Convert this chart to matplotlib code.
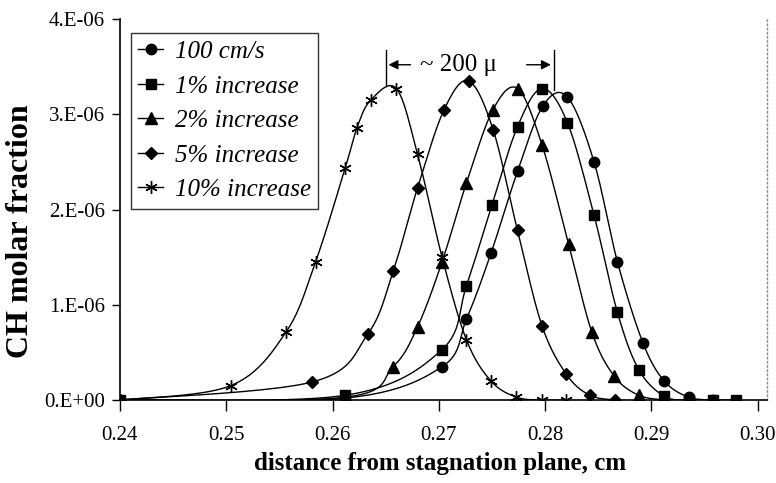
import numpy as np
import matplotlib
matplotlib.use("Agg")
import matplotlib.pyplot as plt
from matplotlib.lines import Line2D
from matplotlib.ticker import FuncFormatter

plt.rcParams['font.family'] = ['Liberation Serif', 'DejaVu Serif']

# CH profiles (distance in cm, molar fraction in units of 1e-6)
x_base = [0.2400, 0.2612, 0.2703, 0.2726, 0.2749, 0.2774, 0.2798, 0.2821,
          0.2846, 0.2868, 0.2892, 0.2912, 0.2935, 0.2958]
y_base = [0.00, 0.02, 0.35, 0.85, 1.54, 2.40, 3.09, 3.18,
          2.50, 1.45, 0.60, 0.20, 0.03, 0.00]

x_1pct = [0.2400, 0.2612, 0.2703, 0.2726, 0.2750, 0.2774, 0.2797, 0.2821,
          0.2846, 0.2868, 0.2888, 0.2912, 0.2935, 0.2958, 0.2980]
y_1pct = [0.00, 0.05, 0.53, 1.20, 2.05, 2.87, 3.27, 2.91,
          1.94, 0.92, 0.32, 0.04, 0.00, 0.00, 0.00]

x_2pct = [0.2400, 0.2612, 0.2657, 0.2680, 0.2703, 0.2726, 0.2751, 0.2774,
          0.2797, 0.2822, 0.2844, 0.2865, 0.2888, 0.2912]
y_2pct = [0.00, 0.03, 0.35, 0.77, 1.45, 2.28, 3.05, 3.27,
          2.68, 1.64, 0.71, 0.25, 0.05, 0.00]

x_5pct = [0.2400, 0.2581, 0.2633, 0.2657, 0.2680, 0.2705, 0.2728, 0.2751,
          0.2774, 0.2797, 0.2820, 0.2842, 0.2866]
y_5pct = [0.00, 0.19, 0.69, 1.35, 2.23, 3.05, 3.35, 2.84,
          1.78, 0.78, 0.27, 0.05, 0.00]

x_10pct = [0.2400, 0.2504, 0.2556, 0.2584, 0.2612, 0.2623, 0.2636, 0.2660,
           0.2680, 0.2703, 0.2726, 0.2749, 0.2773, 0.2797, 0.2820]
y_10pct = [0.00, 0.15, 0.71, 1.45, 2.44, 2.86, 3.15, 3.27,
           2.58, 1.50, 0.63, 0.20, 0.03, 0.00, 0.00]

labels = ['100 cm/s', '1% increase', '2% increase', '5% increase', '10% increase']
y_ticks = [0, 1, 2, 3, 4]
x_ticks = [0.24, 0.25, 0.26, 0.27, 0.28, 0.29, 0.30]


def smooth(x, y, n=24):
    # Catmull-Rom curve through the points, like a spreadsheet "smoothed line"
    pts = np.column_stack([x, y])
    P = np.vstack([pts[0], pts, pts[-1]])
    t = np.linspace(0, 1, n, endpoint=False)[:, None]
    segs = []
    for i in range(len(pts) - 1):
        p0, p1, p2, p3 = P[i], P[i + 1], P[i + 2], P[i + 3]
        segs.append(0.5 * (2 * p1 + (-p0 + p2) * t
                           + (2 * p0 - 5 * p1 + 4 * p2 - p3) * t ** 2
                           + (-p0 + 3 * p1 - 3 * p2 + p3) * t ** 3))
    segs.append(pts[-1:])
    s = np.vstack(segs)
    return s[:, 0], s[:, 1]


fig = plt.figure(figsize=(7.76, 4.83), dpi=100)
ax = fig.add_axes([0.1546, 0.1718, 0.8338, 0.7888])

series = [
    (x_base, y_base, 'o', 7.5),
    (x_1pct, y_1pct, 's', 7.5),
    (x_2pct, y_2pct, '^', 8.5),
    (x_5pct, y_5pct, 'D', 6.5),
    (x_10pct, y_10pct, (6, 2, 0), 9),
]

handles = []
for (x, y, m, ms), lab in zip(series, labels):
    y = np.array(y) * 1e-6
    sx, sy = smooth(x, y)
    ax.plot(sx, sy, color='black', lw=1.0, zorder=2)
    ax.plot(x, y, linestyle='none', marker=m, ms=ms, color='black',
            mec='black', mew=1.0, zorder=3)
    handles.append(Line2D([], [], color='black', lw=1.0, marker=m, ms=ms,
                          mew=1.0, label=lab))

ax.set_xlim(0.24, 0.30087)
ax.set_ylim(0, 4e-6)
ax.set_xticks(x_ticks)
ax.set_yticks([v * 1e-6 for v in y_ticks])
ax.xaxis.set_major_formatter(FuncFormatter(lambda v, p: f'{v:.2f}'))
ax.yaxis.set_major_formatter(FuncFormatter(
    lambda v, p: '0.E+00' if v == 0 else f'{round(v * 1e6):d}.E-06'))
ax.tick_params(axis='x', direction='out', length=8, width=1, pad=11, labelsize=15)
ax.tick_params(axis='y', direction='out', length=6, width=1, pad=5, labelsize=15)

for s in ['left', 'bottom']:
    ax.spines[s].set_linewidth(1.2)
ax.spines['top'].set_visible(False)
ax.spines['right'].set_linestyle((0, (1, 2)))
ax.spines['right'].set_color('#888888')
ax.spines['right'].set_linewidth(1.0)

fig.text(0.567, 0.041, 'distance from stagnation plane, cm', fontsize=18,
         fontweight='bold', ha='center', va='center')
fig.text(0.026, 0.522, 'CH molar fraction', fontsize=23, fontweight='bold',
         rotation=90, ha='center', va='center')

leg = ax.legend(handles=handles, loc='upper left', bbox_to_anchor=(0.017, 0.963),
                borderaxespad=0, fancybox=False, edgecolor='black',
                prop={'style': 'italic', 'size': 18}, handlelength=1.0,
                handletextpad=0.45, labelspacing=0.48, borderpad=0.3)
leg.get_frame().set_linewidth(1.0)

# flame shift annotation between the 10% and 1% peaks
left_x, right_x = 0.2650, 0.2808
ax.plot([left_x, left_x], [3.30e-6, 3.67e-6], color='black', lw=1.0)
ax.plot([right_x, right_x], [3.25e-6, 3.67e-6], color='black', lw=1.0)
arrow = dict(arrowstyle='-|>', color='black', lw=1.0, mutation_scale=14)
ax.annotate('', xy=(left_x, 3.52e-6), xytext=(0.2676, 3.52e-6), arrowprops=arrow)
ax.annotate('', xy=(right_x, 3.52e-6), xytext=(0.2780, 3.52e-6), arrowprops=arrow)
ax.text(0.2718, 3.52e-6, '~ 200 μ', fontsize=18, ha='center', va='center')

fig.savefig('out.png', dpi=100)
